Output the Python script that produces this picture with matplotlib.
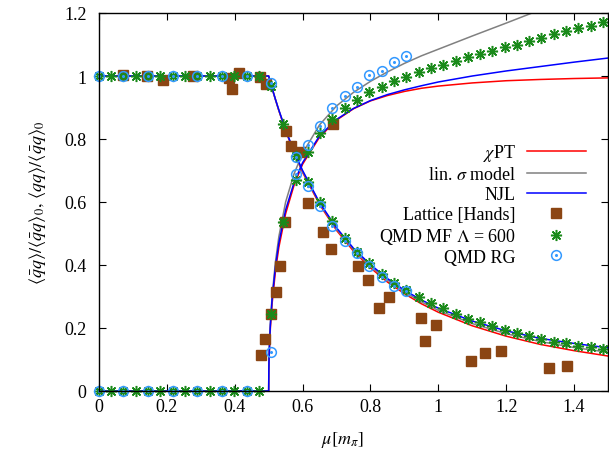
import numpy as np
import matplotlib
matplotlib.use("Agg")
import matplotlib.pyplot as plt
from matplotlib.legend_handler import HandlerTuple

plt.rcParams['font.family'] = ['Liberation Serif', 'DejaVu Serif']
plt.rcParams['mathtext.fontset'] = 'stix'

# model curves, mu in units of m_pi
mu_curve = [0, 0.5, 0.5005, 0.501, 0.503, 0.505, 0.51, 0.52, 0.53, 0.55, 0.575, 0.6,
            0.65, 0.7, 0.75, 0.8, 0.85, 0.9, 0.95, 1.0, 1.1, 1.2, 1.3, 1.4, 1.5]

chpt_cond = [1, 1, 0.998, 0.996, 0.988, 0.980, 0.961, 0.925, 0.890, 0.826, 0.756, 0.694,
             0.592, 0.510, 0.444, 0.391, 0.346, 0.309, 0.277, 0.250, 0.207, 0.174, 0.148, 0.128, 0.111]
chpt_diq = [0, 0, 0.063, 0.089, 0.154, 0.198, 0.276, 0.381, 0.456, 0.563, 0.654, 0.720,
            0.806, 0.860, 0.896, 0.921, 0.938, 0.951, 0.961, 0.968, 0.978, 0.985, 0.989, 0.992, 0.994]

lsm_cond = [1, 1, 0.998, 0.996, 0.988, 0.980, 0.961, 0.925, 0.891, 0.828, 0.759, 0.697,
            0.596, 0.514, 0.449, 0.396, 0.352, 0.315, 0.283, 0.256, 0.214, 0.182, 0.157, 0.138, 0.123]
lsm_diq = [0, 0, 0.070, 0.100, 0.168, 0.215, 0.300, 0.410, 0.490, 0.600, 0.690, 0.755,
           0.845, 0.905, 0.948, 0.983, 1.013, 1.040, 1.064, 1.085, 1.127, 1.168, 1.210, 1.250, 1.290]

njl_cond = [1, 1, 0.998, 0.996, 0.988, 0.980, 0.962, 0.926, 0.892, 0.829, 0.760, 0.700,
            0.598, 0.518, 0.453, 0.401, 0.357, 0.320, 0.289, 0.263, 0.222, 0.191, 0.167, 0.151, 0.137]
njl_diq = [0, 0, 0.070, 0.100, 0.165, 0.210, 0.290, 0.395, 0.470, 0.575, 0.662, 0.725,
           0.810, 0.862, 0.897, 0.922, 0.941, 0.956, 0.969, 0.981, 1.000, 1.016, 1.030, 1.044, 1.057]

# lattice data [Hands]
lat_mu_cond = [0.071, 0.141, 0.19, 0.277, 0.384, 0.392, 0.414, 0.473, 0.492, 0.55, 0.567, 0.593,
               0.615, 0.661, 0.685, 0.762, 0.794, 0.824, 0.856, 0.95, 0.96, 0.993, 1.097, 1.138,
               1.185, 1.326, 1.38]
lat_cond = [1.003, 0.999, 0.987, 1.001, 0.993, 0.959, 1.01, 0.996, 0.975, 0.826, 0.778, 0.759,
            0.597, 0.504, 0.45, 0.396, 0.352, 0.262, 0.30, 0.232, 0.16, 0.21, 0.095, 0.12,
            0.127, 0.073, 0.078]
lat_mu_diq = [0.476, 0.49, 0.508, 0.522, 0.532, 0.547, 0.689]
lat_diq = [0.114, 0.165, 0.243, 0.313, 0.398, 0.536, 0.848]

# QMD mean field, Lambda = 600
mf_mu = [0.000, 0.036, 0.072, 0.109, 0.145, 0.181, 0.217, 0.254, 0.290, 0.326, 0.362, 0.399,
         0.435, 0.471, 0.507, 0.543, 0.580, 0.616, 0.652, 0.688, 0.725, 0.761, 0.797, 0.833,
         0.870, 0.906, 0.942, 0.978, 1.014, 1.051, 1.087, 1.123, 1.159, 1.196, 1.232, 1.268,
         1.304, 1.341, 1.377, 1.413, 1.449, 1.486]
mf_cond = [1, 1, 1, 1, 1, 1, 1, 1, 1, 1, 1, 1, 1, 1,
           0.968, 0.848, 0.745, 0.665, 0.599, 0.541, 0.486, 0.44, 0.405, 0.373, 0.343, 0.32,
           0.30, 0.279, 0.262, 0.246, 0.23, 0.218, 0.205, 0.195, 0.184, 0.174, 0.165, 0.157,
           0.151, 0.144, 0.139, 0.133]
mf_diq = [0, 0, 0, 0, 0, 0, 0, 0, 0, 0, 0, 0, 0, 0,
          0.244, 0.537, 0.671, 0.759, 0.819, 0.863, 0.898, 0.924, 0.949, 0.966, 0.984, 0.997,
          1.013, 1.025, 1.036, 1.049, 1.059, 1.07, 1.08, 1.091, 1.10, 1.112, 1.12, 1.133,
          1.144, 1.151, 1.16, 1.17]

# QMD RG
rg_mu = [0.000, 0.072, 0.145, 0.217, 0.290, 0.362, 0.435, 0.507, 0.580, 0.616, 0.652, 0.688,
         0.725, 0.761, 0.797, 0.833, 0.870, 0.906]
rg_cond = [1, 1, 1, 1, 1, 1, 1, 0.977, 0.742, 0.652, 0.588, 0.525, 0.477, 0.437, 0.398,
           0.362, 0.333, 0.317]
rg_diq = [0, 0, 0, 0, 0, 0, 0, 0.125, 0.689, 0.781, 0.842, 0.90, 0.937, 0.966, 1.003,
          1.017, 1.045, 1.064]

xticks = [0, 0.2, 0.4, 0.6, 0.8, 1.0, 1.2, 1.4]
xtick_labels = ['0', '0.2', '0.4', '0.6', '0.8', '1', '1.2', '1.4']
yticks = [0, 0.2, 0.4, 0.6, 0.8, 1.0, 1.2]
ytick_labels = ['0', '0.2', '0.4', '0.6', '0.8', '1', '1.2']

fig = plt.figure(figsize=(6.09, 4.52), dpi=100)
ax = fig.add_axes([99 / 609, 60 / 452, 509 / 609, 378 / 452])

c_red, c_gray, c_blue = '#ff0000', '#808080', '#0000ff'
c_lat, c_mf, c_rg = '#8b4513', '#1a8a1a', '#3399ff'

l_chpt, = ax.plot(mu_curve, chpt_cond, color=c_red, lw=1.1)
ax.plot(mu_curve, chpt_diq, color=c_red, lw=1.1)
l_lsm, = ax.plot(mu_curve, lsm_cond, color=c_gray, lw=1.1)
ax.plot(mu_curve, lsm_diq, color=c_gray, lw=1.1)
l_njl, = ax.plot(mu_curve, njl_cond, color=c_blue, lw=1.1)
ax.plot(mu_curve, njl_diq, color=c_blue, lw=1.1)

l_lat, = ax.plot(lat_mu_cond, lat_cond, ls='none', marker='s', ms=6.5, color=c_lat, clip_on=False)
ax.plot(lat_mu_diq, lat_diq, ls='none', marker='s', ms=6.5, color=c_lat, clip_on=False)

star = (8, 2, 0)
l_mf, = ax.plot(mf_mu, mf_cond, ls='none', marker=star, ms=8, mew=1.1, color=c_mf, clip_on=False)
ax.plot(mf_mu, mf_diq, ls='none', marker=star, ms=8, mew=1.1, color=c_mf, clip_on=False)

l_rg, = ax.plot(rg_mu, rg_cond, ls='none', marker='o', ms=7, mew=1.1, mfc='none', color=c_rg, clip_on=False)
ax.plot(rg_mu, rg_diq, ls='none', marker='o', ms=7, mew=1.1, mfc='none', color=c_rg, clip_on=False)
d_rg, = ax.plot(rg_mu, rg_cond, ls='none', marker='o', ms=1.2, color=c_rg, clip_on=False)
ax.plot(rg_mu, rg_diq, ls='none', marker='o', ms=1.2, color=c_rg, clip_on=False)

ax.set_xlim(0, 1.5)
ax.set_ylim(0, 1.2)
ax.set_xticks(xticks)
ax.set_xticklabels(xtick_labels)
ax.set_yticks(yticks)
ax.set_yticklabels(ytick_labels)
ax.tick_params(direction='in', top=True, right=True, length=5, width=0.8, labelsize=13)
ax.tick_params(axis='x', pad=5)
ax.tick_params(axis='y', pad=9)
for s in ax.spines.values():
    s.set_linewidth(1.0)

ax.set_xlabel(r'$\mu[m_\pi]$', fontsize=13, va='center')
ax.xaxis.set_label_coords(0.477, -0.127)
ax.set_ylabel(r'$\langle\bar{q}q\rangle/\langle\bar{q}q\rangle_0,\,\langle qq\rangle/\langle\bar{q}q\rangle_0$',
              fontsize=13, va='center')
ax.yaxis.set_label_coords(-0.12, 0.5)

handles = [l_chpt, l_lsm, l_njl, l_lat, l_mf, (l_rg, d_rg)]
labels = [r'$\chi$PT', r'lin. $\sigma$ model', 'NJL', 'Lattice [Hands]',
          r'QMD MF $\Lambda$ = 600', 'QMD RG']
ax.legend(handles, labels, loc='upper right', bbox_to_anchor=(0.957, 0.658),
          markerfirst=False, alignment='right', frameon=False, handlelength=3.3,
          handletextpad=0.6, labelspacing=0.16, borderpad=0, borderaxespad=0,
          fontsize=13, numpoints=1, handler_map={tuple: HandlerTuple(ndivide=1, pad=0)})

fig.savefig('out.png', dpi=100)
